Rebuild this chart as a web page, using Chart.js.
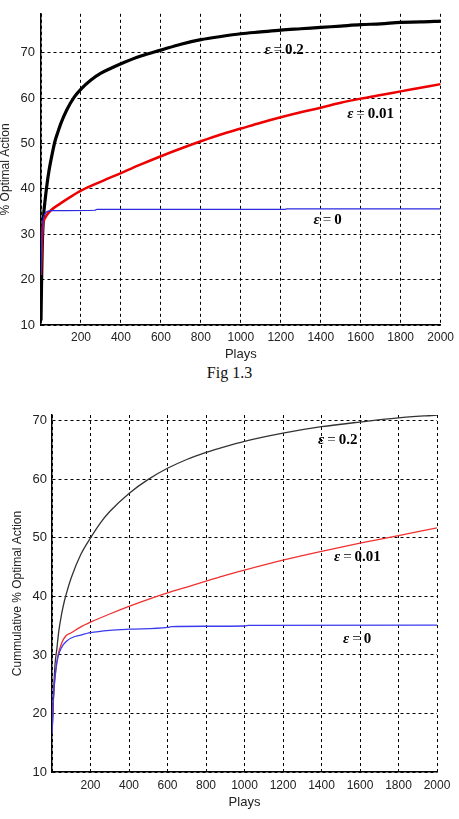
<!DOCTYPE html>
<html>
<head>
<meta charset="utf-8">
<script src="https://cdn.jsdelivr.net/npm/chart.js@4/dist/chart.umd.min.js"></script>
<style>
body{margin:0;background:#fff;width:459px;height:819px;position:relative;overflow:hidden}
canvas{position:absolute;left:0}
#top{top:0}
#bottom{top:400px}
#caption{position:absolute;left:0;width:459px;top:362px;text-align:center;font:16px "Liberation Serif","Times New Roman",serif;line-height:22px;color:#111}
</style>
</head>
<body>
<canvas id="top" width="459" height="362" style="width:459px;height:362px"></canvas>
<div id="caption">Fig 1.3</div>
<canvas id="bottom" width="459" height="419" style="width:459px;height:419px"></canvas>
<script>
// Fig 1.3 : % optimal action per play
const playsTop02 = [0,3,6,10,15,20,30,40,55,70,85,100,130,167,200,250,300,350,400,500,600,700,800,900,1000,1100,1200,1300,1400,1500,1600,1700,1800,1900,2000];
const top02 = [11,20,27,32,35.2,37.3,41,44,47.5,50.5,52.6,54.5,57.5,60.3,62,64,65.5,66.6,67.6,69.3,70.6,71.9,72.9,73.6,74.2,74.6,75,75.3,75.6,75.9,76.2,76.4,76.7,76.8,77];
const playsTop001 = [0,5,10,20,30,50,94,150,200,300,400,500,600,700,800,900,1000,1100,1200,1300,1400,1500,1600,1700,1800,1900,2000];
const top001 = [21,28,32,33.5,34.3,35.3,36.7,38.3,39.6,41.6,43.5,45.4,47.2,48.9,50.5,52,53.3,54.6,55.8,56.9,57.9,59,59.9,60.7,61.5,62.3,63.1];
const playsTop0 = [0,5,10,20,30,60,270,280,1220,1230,2000];
const top0 = [21,30,33,34.5,35,35.2,35.3,35.5,35.5,35.6,35.6];

// cumulative % optimal action
const playsCum02 = [0,5,10,16,25,35,50,65,80,100,150,200,250,300,400,500,600,700,800,900,1000,1200,1400,1600,1800,2000];
const cum02 = [16.5,20,25,28.5,31,34,37,39.3,41.1,43.2,47.2,50,52.5,54.5,57.6,60,61.9,63.4,64.6,65.6,66.5,67.9,69,69.8,70.5,71];
const playsCum001 = [0,5,10,20,30,50,70,100,150,200,300,400,500,600,700,800,900,1000,1200,1400,1600,1800,2000];
const cum001 = [16.5,21,24,27.5,29.8,32,33.2,33.8,34.8,35.6,37,38.3,39.5,40.6,41.6,42.6,43.6,44.5,46.2,47.7,49.1,50.4,51.7];
const playsCum0 = [0,5,10,20,30,50,77,100,150,200,300,400,600,620,800,1000,1020,2000];
const cum0 = [16.5,21,24,27.5,29.5,31.3,32.4,32.9,33.4,33.8,34.2,34.4,34.7,34.85,34.9,34.95,35.05,35.1];

const xTicks = [0,200,400,600,800,1000,1200,1400,1600,1800,2000];
const yTicks = [10,20,30,40,50,60,70];

function pts(plays, vals){ return plays.map((p,i) => ({x:p, y:vals[i]})); }

const epsLabels = {
  id: 'epsLabels',
  afterDatasetsDraw(chart, args, opts){
    const ctx = chart.ctx;
    const xs = chart.scales.x, ys = chart.scales.y;
    ctx.save();
    ctx.fillStyle = '#000';
    ctx.textBaseline = 'middle';
    opts.items.forEach(it => {
      let px = xs.getPixelForValue(it.x);
      const py = ys.getPixelForValue(it.y);
      ctx.font = 'bold italic 15px "Liberation Serif"';
      ctx.fillText('\u03b5', px, py);
      px += ctx.measureText('\u03b5').width + 3;
      ctx.font = '15px "Liberation Serif"';
      ctx.fillText('=', px, py);
      px += ctx.measureText('=').width + 3;
      ctx.font = 'bold 15px "Liberation Serif"';
      ctx.fillText(it.text, px, py);
    });
    ctx.restore();
  }
};

function makeChart(id, sets, cfg){
  return new Chart(document.getElementById(id), {
    type: 'line',
    data: { datasets: sets },
    options: {
      responsive: false,
      animation: false,
      layout: { padding: cfg.padding },
      elements: { point: { radius: 0 }, line: { cubicInterpolationMode: 'monotone' } },
      plugins: {
        legend: { display: false },
        tooltip: { enabled: false },
        epsLabels: { items: cfg.labels }
      },
      scales: {
        x: {
          type: 'linear', min: 0, max: 2000,
          afterFit: s => { s.height = cfg.xHeight; },
          afterBuildTicks: s => { s.ticks = xTicks.map(v => ({value: v})); },
          ticks: {
            padding: cfg.xPad, color: '#222', maxRotation: 0, autoSkip: false,
            font: { family: 'Liberation Sans', size: 12 },
            callback: v => v === 0 ? '' : v
          },
          grid: { color: '#000', lineWidth: 1, drawTicks: false },
          border: { color: '#000', width: 1.5, dash: [3,3] },
          title: {
            display: true, text: 'Plays', color: '#222',
            font: { family: 'Liberation Sans', size: 13 },
            padding: { top: 0, bottom: cfg.titleBottom }
          }
        },
        y: {
          min: 10, max: cfg.yMax,
          afterFit: s => { s.width = cfg.yWidth; },
          afterBuildTicks: s => { s.ticks = yTicks.map(v => ({value: v})); },
          ticks: {
            padding: cfg.yPad, color: '#222',
            font: { family: 'Liberation Sans', size: 13 }
          },
          grid: { color: '#000', lineWidth: 1, drawTicks: false },
          border: { color: '#000', width: 1.5, dash: [3,3] },
          title: {
            display: true, text: cfg.yTitle, color: '#222',
            font: { family: 'Liberation Sans', size: 12, lineHeight: 1 },
            padding: { top: cfg.yTitlePad, bottom: 0 }
          }
        }
      }
    },
    plugins: [epsLabels]
  });
}

makeChart('top', [
  { data: pts(playsTop0, top0), borderColor: '#2a2ae0', borderWidth: 1.2 },
  { data: pts(playsTop001, top001), borderColor: '#ee0000', borderWidth: 2.5 },
  { data: pts(playsTop02, top02), borderColor: '#000', borderWidth: 3.2 }
], {
  padding: { top: 6, right: 12, left: 0, bottom: 0 },
  xHeight: 37, xPad: 5, titleBottom: 0,
  yWidth: 41, yPad: 6, yMax: 78.6,
  yTitle: '% Optimal Action', yTitlePad: 0,
  labels: [
    { x: 1118, y: 70.6, text: '0.2' },
    { x: 1532, y: 56.4, text: '0.01' },
    { x: 1364, y: 33.1, text: '0' }
  ]
});

makeChart('bottom', [
  { data: pts(playsCum0, cum0), borderColor: '#3b3bee', borderWidth: 1.3 },
  { data: pts(playsCum001, cum001), borderColor: '#f03030', borderWidth: 1.3 },
  { data: pts(playsCum02, cum02), borderColor: '#333', borderWidth: 1.3 }
], {
  padding: { top: 15, right: 22, left: 0, bottom: 0 },
  xHeight: 47, xPad: 6, titleBottom: 9,
  yWidth: 52, yPad: 5, yMax: 71,
  yTitle: 'Cummulative % Optimal Action', yTitlePad: 12,
  labels: [
    { x: 1382, y: 66.75, text: '0.2' },
    { x: 1465, y: 46.75, text: '0.01' },
    { x: 1512, y: 32.7, text: '0' }
  ]
});
</script>
</body>
</html>
